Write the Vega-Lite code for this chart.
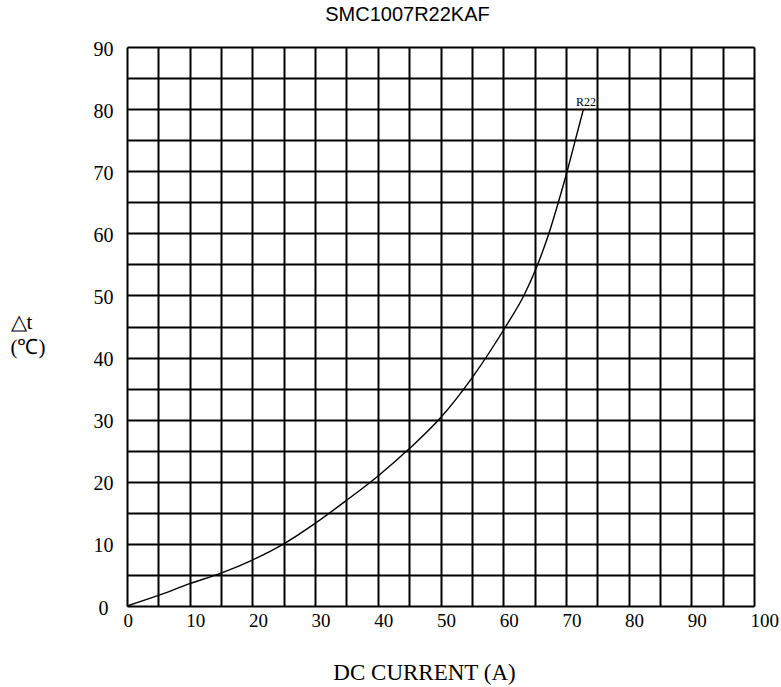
{
  "$schema": "https://vega.github.io/schema/vega-lite/v6.json",
  "autosize": "none",
  "width": 627,
  "height": 559,
  "padding": {"left": 127, "top": 47, "right": 27, "bottom": 81},
  "background": "white",
  "title": {
    "text": "SMC1007R22KAF",
    "font": "Liberation Sans",
    "fontSize": 20,
    "fontWeight": "normal",
    "color": "black",
    "anchor": "middle",
    "frame": "group",
    "dx": -33,
    "offset": 14
  },
  "config": {
    "view": {"stroke": null},
    "axis": {
      "labelFont": "Liberation Serif",
      "titleFont": "Liberation Serif",
      "labelColor": "black",
      "titleColor": "black",
      "grid": true,
      "gridColor": "black",
      "gridWidth": 2,
      "gridOpacity": 1,
      "domain": false,
      "ticks": false,
      "tickSize": 0,
      "labelFontSize": 20,
      "titleFontWeight": "normal"
    }
  },
  "datasets": {
    "curve": [
      {"current": 0, "dt": 0},
      {"current": 5, "dt": 1.7},
      {"current": 10, "dt": 3.6},
      {"current": 15, "dt": 5.3},
      {"current": 20, "dt": 7.4},
      {"current": 25, "dt": 10.0},
      {"current": 30, "dt": 13.3},
      {"current": 35, "dt": 17.0},
      {"current": 40, "dt": 20.9},
      {"current": 45, "dt": 25.3},
      {"current": 50, "dt": 30.3},
      {"current": 55, "dt": 36.7},
      {"current": 60.4, "dt": 45},
      {"current": 63.3, "dt": 50},
      {"current": 65.5, "dt": 55},
      {"current": 67.3, "dt": 60},
      {"current": 68.8, "dt": 65},
      {"current": 70.2, "dt": 70},
      {"current": 71.5, "dt": 75},
      {"current": 72.8, "dt": 80}
    ],
    "label": [
      {"current": 73.2, "dt": 80, "name": "R22"}
    ]
  },
  "encoding": {
    "x": {
      "field": "current",
      "type": "quantitative",
      "scale": {"domain": [0, 100], "nice": false, "zero": false},
      "axis": {
        "values": [0,5,10,15,20,25,30,35,40,45,50,55,60,65,70,75,80,85,90,95,100],
        "labelExpr": "datum.value % 10 === 0 ? datum.label : ''",
        "labelAlign": "left",
        "labelOffset": -4,
        "labelBaseline": "top",
        "labelPadding": 5,
        "labelFontSize": 19,
        "title": "DC CURRENT (A)",
        "titleFontSize": 23,
        "titleX": 297,
        "titleY": 73,
        "titleBaseline": "alphabetic",
        "titleAlign": "center"
      }
    },
    "y": {
      "field": "dt",
      "type": "quantitative",
      "scale": {"domain": [0, 90], "nice": false, "zero": false},
      "axis": {
        "values": [0,5,10,15,20,25,30,35,40,45,50,55,60,65,70,75,80,85,90],
        "labelExpr": "datum.value % 10 === 0 ? datum.label : ''",
        "labelAlign": "center",
        "labelPadding": 24,
        "labelBaseline": "middle",
        "labelOffset": 2,
        "title": ["△t", "(℃)"],
        "titleFontSize": 21,
        "titleAngle": 0,
        "titleAlign": "left",
        "titleBaseline": "middle",
        "titleX": -117,
        "titleY": 275,
        "titleLineHeight": 25
      }
    }
  },
  "layer": [
    {
      "data": {"name": "curve"},
      "mark": {"type": "line", "color": "black", "strokeWidth": 1.4, "interpolate": "monotone"}
    },
    {
      "data": {"name": "label"},
      "mark": {"type": "text", "font": "Liberation Serif", "fontSize": 12, "color": "black", "align": "center", "baseline": "alphabetic", "dy": -3},
      "encoding": {
        "text": {"field": "name"}
      }
    }
  ]
}
